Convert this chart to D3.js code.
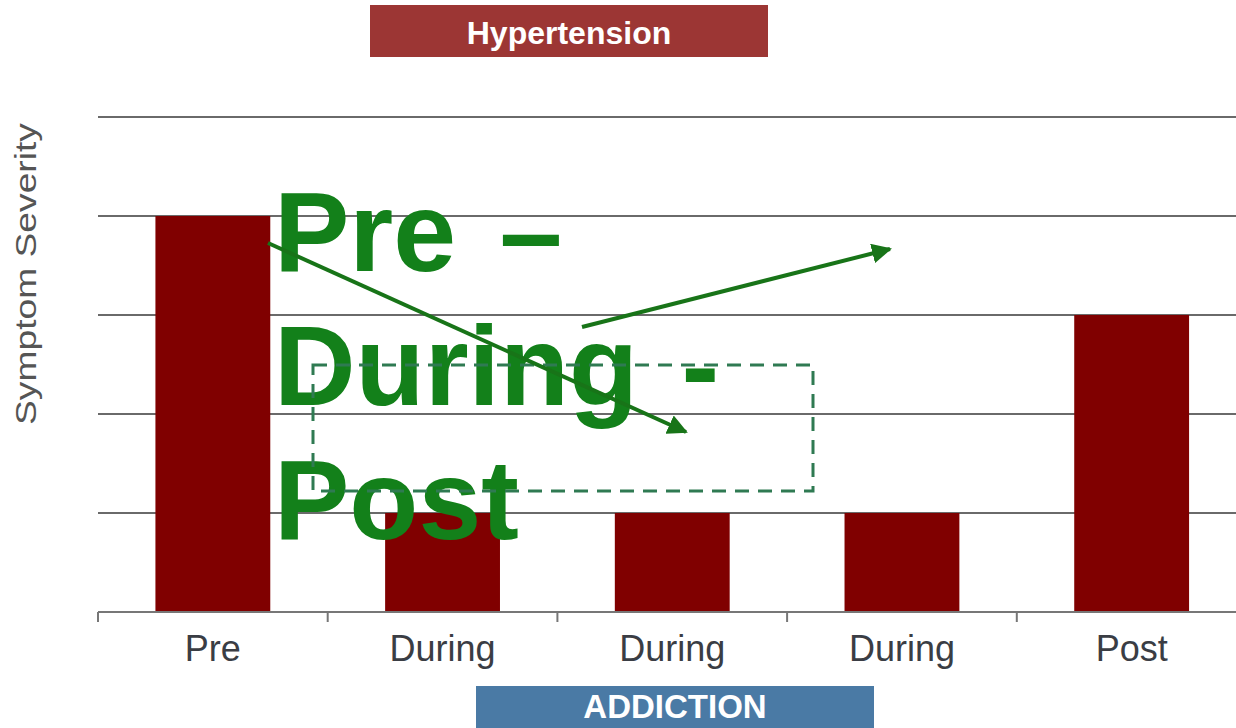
<!DOCTYPE html>
<html><head><meta charset="utf-8">
<script src="https://cdn.jsdelivr.net/npm/d3@7"></script>
<style>body{margin:0;background:#fff}svg{display:block}</style>
</head><body>
<svg id="c" width="1236" height="728"></svg>
<script>
const categories = ["Pre", "During", "During", "During", "Post"];
const severity = [4, 1, 1, 1, 3];
const yTicks = [0, 1, 2, 3, 4, 5];
const titleText = "Hypertension";
const bottomText = "ADDICTION";
const yLabel = "Symptom Severity";
const overlayLines = ["Pre \u2013", "During -", "Post"];

const svg = d3.select("#c");
const W = 1236, H = 728;
const m = {left: 98, top: 117, bottom: 612};
const bandW = 229.7;
const x = d3.scaleBand().domain(d3.range(categories.length)).range([m.left, m.left + bandW * categories.length]).paddingInner(0.5).paddingOuter(0.25);
const y = d3.scaleLinear().domain([0, 5]).range([m.bottom, m.top]);
const FONT = "Liberation Sans, Arial, sans-serif";

// gridlines
svg.append("g").selectAll("line").data(yTicks.filter(d => d > 0)).join("line")
  .attr("x1", m.left).attr("x2", W).attr("y1", d => y(d)).attr("y2", d => y(d))
  .attr("stroke", "#6a6a6a").attr("stroke-width", 2);

// bars
svg.append("g").selectAll("rect").data(severity).join("rect")
  .attr("x", (d, i) => x(i)).attr("width", x.bandwidth())
  .attr("y", d => y(d)).attr("height", d => y(0) - y(d))
  .attr("fill", "#800000");

// x axis baseline and ticks
const ax = svg.append("g");
ax.append("line").attr("x1", m.left).attr("x2", W).attr("y1", y(0)).attr("y2", y(0))
  .attr("stroke", "#777").attr("stroke-width", 2);
ax.selectAll("line.t").data(d3.range(categories.length)).join("line").attr("class", "t")
  .attr("x1", i => m.left + i * bandW).attr("x2", i => m.left + i * bandW)
  .attr("y1", y(0)).attr("y2", y(0) + 10).attr("stroke", "#777").attr("stroke-width", 2);
ax.selectAll("text").data(categories).join("text")
  .attr("x", (d, i) => x(i) + x.bandwidth() / 2).attr("y", 661)
  .attr("text-anchor", "middle").attr("font-family", FONT)
  .attr("font-size", 36).attr("fill", "#3a3d44").text(d => d);

// y label
svg.append("text").attr("transform", "translate(36,274) rotate(-90)")
  .attr("text-anchor", "middle").attr("font-family", FONT)
  .attr("font-size", 29).attr("fill", "#555")
  .attr("textLength", 302).attr("lengthAdjust", "spacingAndGlyphs").text(yLabel);

// title box
svg.append("rect").attr("x", 370).attr("y", 5).attr("width", 398).attr("height", 52).attr("fill", "#9c3634");
svg.append("text").attr("x", 569).attr("y", 44).attr("text-anchor", "middle")
  .attr("font-family", FONT).attr("font-weight", "bold")
  .attr("font-size", 32).attr("fill", "#fff").text(titleText);

// bottom box
svg.append("rect").attr("x", 476).attr("y", 686).attr("width", 398).attr("height", 42).attr("fill", "#4a7aa5");
svg.append("text").attr("x", 675).attr("y", 718).attr("text-anchor", "middle")
  .attr("font-family", FONT).attr("font-weight", "bold")
  .attr("font-size", 33).attr("fill", "#fff").text(bottomText);

// overlay text
svg.append("g").selectAll("text").data(overlayLines).join("text")
  .attr("x", 274).attr("y", (d, i) => 271 + i * 134)
  .attr("font-family", FONT).attr("font-weight", "bold")
  .attr("font-size", 113).attr("word-spacing", 12).attr("fill", "#13801a").text(d => d);

// dashed rectangle
svg.append("rect").attr("x", 313).attr("y", 365).attr("width", 500).attr("height", 126)
  .attr("fill", "none").attr("stroke", "#2f7a52").attr("stroke-width", 3).attr("stroke-dasharray", "14,9");

// arrows
const defs = svg.append("defs");
defs.append("marker").attr("id", "ah").attr("viewBox", "0 0 10 10").attr("refX", 9).attr("refY", 5)
  .attr("markerWidth", 5).attr("markerHeight", 5).attr("orient", "auto")
  .append("path").attr("d", "M0,0 L10,5 L0,10 Z").attr("fill", "#187418");
const arrows = [[268, 243, 686, 432], [582, 327, 890, 249]];
svg.append("g").selectAll("line").data(arrows).join("line")
  .attr("x1", d => d[0]).attr("y1", d => d[1]).attr("x2", d => d[2]).attr("y2", d => d[3])
  .attr("stroke", "#187418").attr("stroke-width", 4).attr("marker-end", "url(#ah)");
</script>
</body></html>
